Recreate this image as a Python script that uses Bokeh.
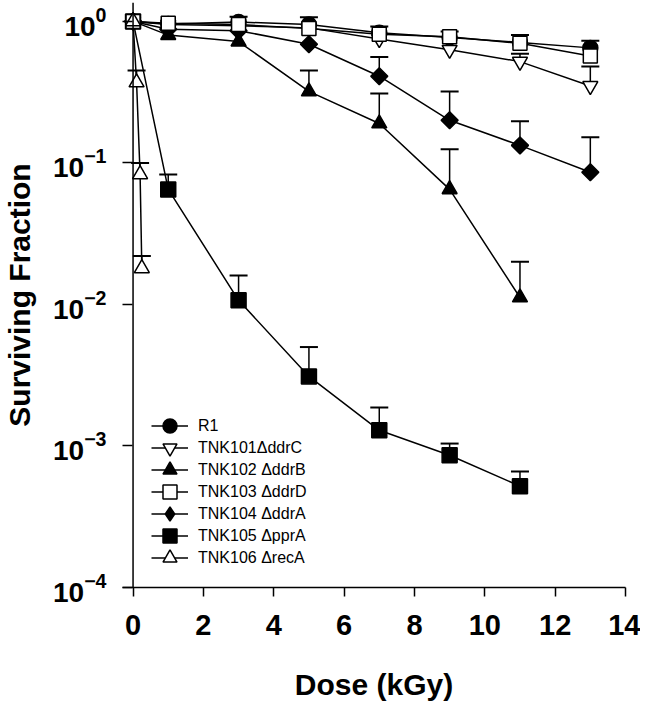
import math
from bokeh.plotting import figure
from bokeh.models import (ColumnDataSource, Whisker, TeeHead, Span, Legend,
                          LegendItem, FixedTicker)
from bokeh.embed import file_html
from bokeh.resources import INLINE

# ---- data ----
dose = [0, 1, 3, 5, 7, 9, 11, 13]
r1 = [1.0, 0.96, 0.99, 0.95, 0.83, 0.77, 0.71, 0.65]
ddrC = [1.0, 0.95, 0.93, 0.90, 0.75, 0.63, 0.52, 0.35]
ddrD = [1.0, 0.97, 0.95, 0.89, 0.81, 0.78, 0.70, 0.57]
ddrA = [1.0, 0.88, 0.86, 0.69, 0.41, 0.20, 0.133, 0.086]
dose_ddrB = [0, 1, 3, 5, 7, 9, 11]
ddrB = [1.0, 0.80, 0.72, 0.32, 0.19, 0.065, 0.0112]
dose_pprA = [0, 1, 3, 5, 7, 9, 11]
pprA = [1.0, 0.065, 0.0107, 0.0031, 0.00129, 0.00086, 0.00052]
dose_recA = [0, 0.1, 0.2, 0.25]
recA = [1.0, 0.37, 0.083, 0.018]

# upper error bar ends
r1_err_x = [3, 5, 7, 9, 11, 13]
r1_err_top = [1.08, 1.07, 0.92, 0.85, 0.80, 0.73]
ddrC_err_x = [11, 13]
ddrC_err_top = [0.59, 0.48]
ddrB_err_x = [5, 7, 9, 11]
ddrB_err_top = [0.45, 0.31, 0.125, 0.02]
ddrA_err_x = [7, 9, 11, 13]
ddrA_err_top = [0.56, 0.32, 0.197, 0.152]
pprA_err_x = [1, 3, 5, 7, 9, 11]
pprA_err_top = [0.083, 0.016, 0.0050, 0.00187, 0.00104, 0.00066]
recA_err_x = [0.1, 0.2, 0.25]
recA_err_top = [0.45, 0.10, 0.022]

x_ticks = [0, 2, 4, 6, 8, 10, 12, 14]
labels = ["R1", "TNK101\u0394ddrC", "TNK102 \u0394ddrB", "TNK103 \u0394ddrD",
          "TNK104 \u0394ddrA", "TNK105 \u0394pprA", "TNK106 \u0394recA"]

FONT = "Liberation Sans"

p = figure(width=640, height=710, y_axis_type="log",
           x_range=(-0.3, 14), y_range=(1e-4, 1.36),
           output_backend="svg", toolbar_location=None,
           min_border_left=111, min_border_right=15,
           min_border_top=2, min_border_bottom=123)
p.xgrid.visible = False
p.ygrid.visible = False
p.outline_line_color = None

# axes styling
xa = p.xaxis[0]
xa.ticker = FixedTicker(ticks=x_ticks)
xa.axis_line_width = 1.5
xa.axis_line_color = "black"
xa.major_tick_line_width = 1.5
xa.major_tick_line_color = "black"
xa.major_tick_out = 9
xa.major_tick_in = 0
xa.minor_tick_line_color = None
xa.major_label_text_font = FONT
xa.major_label_text_font_style = "bold"
xa.major_label_text_font_size = "29px"
xa.major_label_text_color = "black"
xa.major_label_standoff = 18
xa.axis_label = "Dose (kGy)"
xa.axis_label_text_font = FONT
xa.axis_label_text_font_style = "bold"
xa.axis_label_text_font_size = "30px"
xa.axis_label_text_color = "black"
xa.axis_label_standoff = 30

ya = p.yaxis[0]
ya.axis_line_color = None
ya.major_tick_line_width = 1.5
ya.major_tick_line_color = "black"
ya.major_tick_in = 10
ya.major_tick_out = 0
ya.minor_tick_line_color = None
ya.major_label_text_font = FONT
ya.major_label_text_font_style = "bold"
ya.major_label_text_font_size = "28px"
ya.major_label_text_color = "black"
ya.major_label_standoff = 12
ya.axis_label = "Surviving Fraction"
ya.axis_label_text_font = FONT
ya.axis_label_text_font_style = "bold"
ya.axis_label_text_font_size = "30px"
ya.axis_label_text_color = "black"
ya.axis_label_standoff = 14

p.add_layout(Span(location=0, dimension="height", line_color="black",
                  line_width=1.5))


def errbars(xs, ys_all, xall, tops):
    base_y = [ys_all[xall.index(x)] for x in xs]
    src = ColumnDataSource(dict(x=xs, lo=base_y, hi=tops))
    w = Whisker(base="x", lower="lo", upper="hi", source=src,
                dimension="height", line_color="black", line_width=1.5,
                upper_head=TeeHead(size=18, line_width=2, line_color="black"),
                lower_head=None, level="underlay")
    p.add_layout(w)


errbars(r1_err_x, r1, dose, r1_err_top)
errbars(ddrC_err_x, ddrC, dose, ddrC_err_top)
errbars(ddrB_err_x, ddrB, dose_ddrB, ddrB_err_top)
errbars(ddrA_err_x, ddrA, dose, ddrA_err_top)
errbars(pprA_err_x, pprA, dose_pprA, pprA_err_top)
errbars(recA_err_x, recA, dose_recA, recA_err_top)

series = [
    # label, x, y, marker, fill, size, angle, legend marker
    (labels[0], dose, r1, "circle", "black", 15, 0, "circle"),
    (labels[1], dose, ddrC, "inverted_triangle", "white", 15, 0, "inverted_triangle"),
    (labels[2], dose_ddrB, ddrB, "triangle", "black", 15, 0, "triangle"),
    (labels[3], dose, ddrD, "square", "white", 14, 0, "square"),
    (labels[4], dose, ddrA, "square", "black", 12, math.pi / 4, "diamond"),
    (labels[5], dose_pprA, pprA, "square", "black", 15, 0, "square"),
    (labels[6], dose_recA, recA, "triangle", "white", 15, 0, "triangle"),
]

lines = {}
for s in series:
    lines[s[0]] = p.line(s[1], s[2], line_color="black", line_width=1.5)

draw_order = [1, 2, 4, 5, 0, 3, 6]
marks = {}
for i in draw_order:
    lab, xs, ys, mk, fc, sz, ang, lmk = series[i]
    marks[lab] = p.scatter(xs, ys, marker=mk, size=sz, angle=ang,
                           fill_color=fc, line_color="black", line_width=1.5)

# legend: one single-item legend per row (row pitch 22 px, 14 px symbols)
n = len(series)
for i, s in enumerate(series):
    lab, xs, ys, lmk, fc = s[0], s[1], s[2], s[7], s[4]
    if lmk != s[3]:
        # legend-only symbol (diamond), not drawn in the plot area
        sym = p.scatter(xs, ys, marker=lmk, fill_color=fc,
                        line_color="black", line_width=1.5, visible=False)
    else:
        sym = marks[lab]
    lg = Legend(items=[LegendItem(label=lab, renderers=[lines[lab], sym])],
                location=(29, 12 + (n - 1 - i) * 22), orientation="vertical",
                glyph_width=37, glyph_height=35, label_height=20,
                padding=0, margin=0, label_standoff=10,
                border_line_color=None, background_fill_alpha=0,
                inactive_fill_alpha=0,
                label_text_font=FONT, label_text_font_size="16px",
                label_text_color="black")
    p.add_layout(lg)

open("out.html", "w").write(file_html(p, INLINE))
